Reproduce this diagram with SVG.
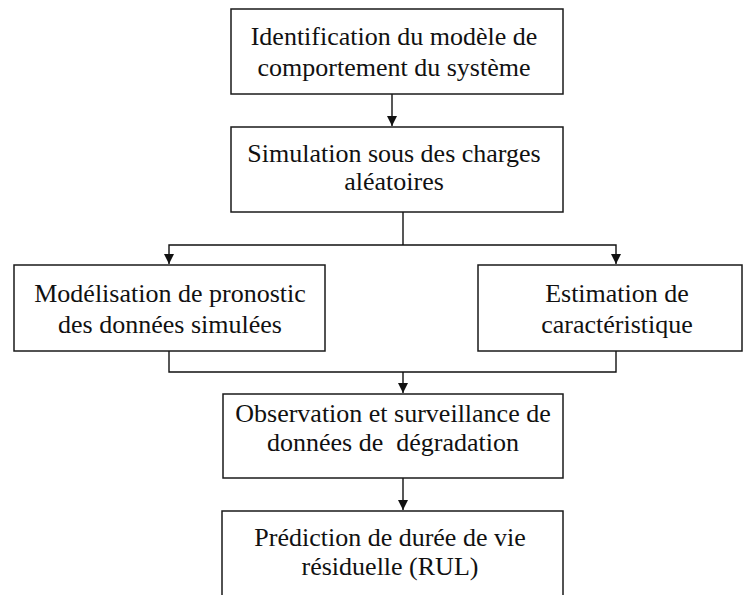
<svg xmlns="http://www.w3.org/2000/svg" width="743" height="595" viewBox="0 0 743 595">
<style>
.box{fill:#fff;stroke:#1a1a1a;stroke-width:1.5}
.t{font-family:"Liberation Serif","Times New Roman",serif;font-size:26px;fill:#111;text-anchor:middle;white-space:pre}
.c{fill:none;stroke:#111;stroke-width:1.4}
</style>
<defs>
<marker id="ah" markerWidth="10" markerHeight="10" refX="10" refY="5" orient="auto" markerUnits="userSpaceOnUse">
<path d="M0,0 L10,5 L0,10 Z" fill="#111"/>
</marker>
</defs>
<rect width="743" height="595" fill="#fff"/>
<g id="connectors">
<line class="c" x1="392" y1="94" x2="392" y2="126" marker-end="url(#ah)"/>
<polyline class="c" points="403,212 403,245"/>
<polyline class="c" points="403,245 169,245 169,264" marker-end="url(#ah)"/>
<polyline class="c" points="403,245 616,245 616,264" marker-end="url(#ah)"/>
<polyline class="c" points="169,351 169,372 616,372 616,351"/>
<line class="c" x1="403" y1="372" x2="403" y2="393" marker-end="url(#ah)"/>
<line class="c" x1="403" y1="478" x2="403" y2="510" marker-end="url(#ah)"/>
</g>
<g id="n1">
<rect class="box" x="231" y="9" width="332" height="85"/>
<text class="t" x="394" y="45">Identification du modèle de</text>
<text class="t" x="394" y="76">comportement du système</text>
</g>
<g id="n2">
<rect class="box" x="231" y="127" width="332" height="85"/>
<text class="t" x="394" y="162">Simulation sous des charges</text>
<text class="t" x="394" y="190">aléatoires</text>
</g>
<g id="n3">
<rect class="box" x="14" y="265" width="311" height="86"/>
<text class="t" x="170" y="302">Modélisation de pronostic</text>
<text class="t" x="170" y="333">des données simulées</text>
</g>
<g id="n4">
<rect class="box" x="478" y="265" width="264" height="86"/>
<text class="t" x="617" y="302">Estimation de</text>
<text class="t" x="617" y="333">caractéristique</text>
</g>
<g id="n5">
<rect class="box" x="223" y="394" width="340" height="84"/>
<text class="t" x="393" y="422">Observation et surveillance de</text>
<text class="t" x="393" y="451">données de  dégradation</text>
</g>
<g id="n6">
<rect class="box" x="222" y="511" width="341" height="100"/>
<text class="t" x="390" y="546">Prédiction de durée de vie</text>
<text class="t" x="390" y="575">résiduelle (RUL)</text>
</g>
</svg>
